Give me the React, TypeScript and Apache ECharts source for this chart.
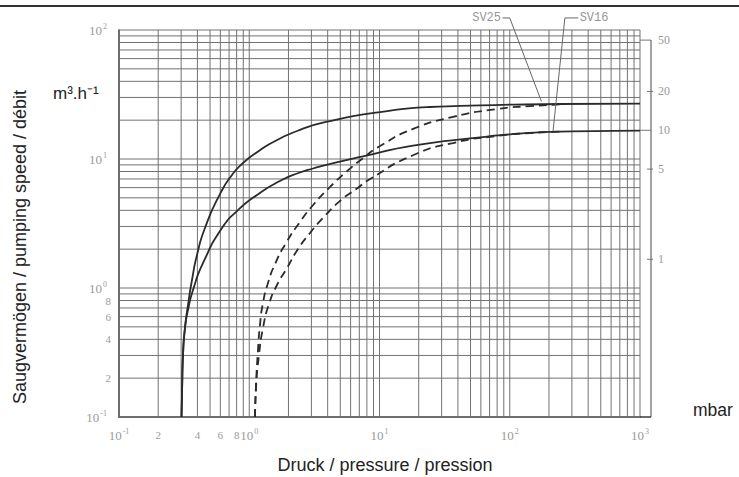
import React, { useEffect, useRef } from 'react';
import * as echarts from 'echarts';

// Axis ranges (log scales)
const X_MIN = 0.1;
const X_MAX = 1000;
const Y_MIN = 0.1;
const Y_MAX = 100;
// right-hand scale: value 10 sits at the SV16 plateau
const RIGHT_FACTOR = 1.67;

// [pressure mbar, pumping speed m3/h]
const sv25Solid: number[][] = [
  [0.302, 0.1], [0.305, 0.162], [0.31, 0.302], [0.321, 0.49], [0.3386, 0.738],
  [0.3634, 1.153], [0.397, 1.803], [0.457, 2.92], [0.596, 5.35], [0.737, 7.52],
  [0.896, 9.31], [1.147, 11.3], [1.52, 13.5], [2.45, 16.8], [4.17, 19.7],
  [10.1, 23.1], [24.4, 25.3], [59.1, 26.0], [243, 26.7], [1000, 26.9],
];
const sv16Solid: number[][] = [
  [0.302, 0.1], [0.305, 0.162], [0.31, 0.302], [0.321, 0.49], [0.3386, 0.675],
  [0.37, 0.965], [0.442, 1.563], [0.618, 2.92], [0.805, 3.95], [1.147, 5.26],
  [1.72, 6.75], [2.45, 7.86], [3.09, 8.44], [4.98, 9.56], [7.47, 10.46],
  [18.1, 12.7], [59.1, 14.7], [100, 15.5], [243, 16.3], [1000, 16.6],
];
const sv25Dashed: number[][] = [
  [1.107, 0.1], [1.127, 0.177], [1.167, 0.33], [1.209, 0.516], [1.275, 0.766],
  [1.393, 1.094], [1.577, 1.535], [1.915, 2.233], [2.45, 3.25], [3.14, 4.48],
  [4.17, 6.07], [5.43, 7.79], [7.34, 10.0], [10.1, 12.6], [18.1, 17.1],
  [36.7, 21.2], [79.8, 24.4], [143, 25.7], [243, 26.5],
];
const sv16Dashed: number[][] = [
  [1.107, 0.1], [1.127, 0.168], [1.188, 0.302], [1.275, 0.49], [1.418, 0.751],
  [1.633, 1.055], [1.95, 1.429], [2.368, 2.005], [2.927, 2.67], [3.684, 3.49],
  [4.98, 4.73], [6.72, 5.91], [8.46, 7.0], [18.1, 10.7], [36.7, 13.3],
  [79.8, 15.1], [143, 15.9], [243, 16.3],
];

// annotation leaders: [label anchor, elbow, curve point]
const sv25Leader: number[][] = [[88, 124], [100, 124], [175, 28]];
const sv16Leader: number[][] = [[335, 124], [265, 124], [215, 16.5]];

// tick labels
const xMinorLabels = [0.2, 0.4, 0.6, 0.8];
const yMinorLabels = [0.2, 0.4, 0.6, 0.8];
const rightTicks = [50, 20, 10, 5, 1];
const rightLongTicks = [50, 10];

// log grid lines (1..9 per decade)
const xGrid: number[] = [];
for (let k = -1; k <= 2; k++) for (let m = 1; m <= 9; m++) xGrid.push(m * Math.pow(10, k));
xGrid.push(X_MAX);
const yGrid: number[] = [];
for (let k = -1; k <= 1; k++) for (let m = 1; m <= 9; m++) yGrid.push(m * Math.pow(10, k));
yGrid.push(Y_MAX);

const pow10Rich = (v: number) => '{b|10}{s|' + String(Math.round(Math.log10(v))) + '}';

const TICK_FONT = '"Liberation Serif", "DejaVu Serif", serif';
const TICK_COLOR = '#9a9a9a';
const MAIN_FONT = '"Liberation Sans", Arial, sans-serif';
const GRID_COLOR = '#727272';
const CURVE_COLOR = '#2b2b2b';
const RIGHT_OFFSET = 11;

const decadeLabel = {
  formatter: (v: number) => pow10Rich(v),
  color: TICK_COLOR,
  fontFamily: TICK_FONT,
  margin: 10,
  rich: {
    b: { fontSize: 13, lineHeight: 16, color: TICK_COLOR, fontFamily: TICK_FONT },
    s: { fontSize: 8, lineHeight: 9, verticalAlign: 'top', color: TICK_COLOR, fontFamily: TICK_FONT, padding: [0, 0, 0, 1] },
  },
};

export default function App() {
  const ref = useRef<HTMLDivElement>(null);

  useEffect(() => {
    if (!ref.current) return;
    const chart = echarts.init(ref.current, undefined, { renderer: 'svg' });

    const curve = (name: string, data: number[][], dashed: boolean) => ({
      type: 'line',
      name,
      data,
      symbol: 'none',
      showSymbol: false,
      smooth: 0.6,
      z: 5,
      lineStyle: {
        color: CURVE_COLOR,
        width: 1.8,
        type: dashed ? [8, 5] : 'solid',
      },
    });

    const leader = (name: string, data: number[][]) => ({
      type: 'line',
      name,
      data,
      symbol: 'none',
      clip: false,
      z: 6,
      lineStyle: { color: '#666', width: 1 },
    });

    const option: any = {
      animation: false,
      backgroundColor: '#fff',
      grid: { left: 119, right: 99, top: 30, bottom: 60, containLabel: false },
      xAxis: {
        type: 'log',
        logBase: 10,
        min: X_MIN,
        max: X_MAX,
        axisLine: { show: true, onZero: false, lineStyle: { color: '#3a3a3a', width: 1.5 } },
        axisTick: { show: false },
        splitLine: { show: false },
        axisLabel: decadeLabel,
      },
      yAxis: [
        {
          type: 'log',
          logBase: 10,
          min: Y_MIN,
          max: Y_MAX,
          axisLine: { show: true, onZero: false, lineStyle: { color: '#3a3a3a', width: 1.5 } },
          axisTick: { show: false },
          splitLine: { show: false },
          axisLabel: { ...decadeLabel, margin: 12 },
        },
        {
          type: 'log',
          logBase: 10,
          min: Y_MIN / RIGHT_FACTOR,
          max: Y_MAX / RIGHT_FACTOR,
          position: 'right',
          axisLine: { show: false },
          axisTick: { show: false },
          axisLabel: { show: false },
          splitLine: { show: false },
        },
      ],
      graphic: [
        {
          type: 'line',
          shape: { x1: 0, y1: 6, x2: 739, y2: 6 },
          style: { stroke: '#333', lineWidth: 2 },
        },
        {
          type: 'text',
          x: 20,
          y: 247,
          rotation: Math.PI / 2,
          style: {
            text: 'Saugvermögen / pumping speed / débit',
            fontSize: 18,
            fontFamily: MAIN_FONT,
            fill: '#222',
            align: 'center',
            verticalAlign: 'middle',
          },
        },
        {
          type: 'text',
          x: 53,
          y: 93,
          style: {
            text: 'm³.h⁻¹',
            fontSize: 17,
            fontFamily: MAIN_FONT,
            fill: '#222',
            align: 'left',
            verticalAlign: 'middle',
          },
        },
        {
          type: 'text',
          x: 385,
          y: 465,
          style: {
            text: 'Druck / pressure / pression',
            fontSize: 18,
            fontFamily: MAIN_FONT,
            fill: '#222',
            align: 'center',
            verticalAlign: 'middle',
          },
        },
        {
          type: 'text',
          x: 693,
          y: 410,
          style: {
            text: 'mbar',
            fontSize: 17.5,
            fontFamily: MAIN_FONT,
            fill: '#222',
            align: 'left',
            verticalAlign: 'middle',
          },
        },
      ],
      series: [
        {
          type: 'custom',
          name: 'vgrid',
          silent: true,
          z: 1,
          clip: false,
          data: xGrid.map((v) => [v, Y_MIN]),
          encode: { x: 0, y: 1 },
          renderItem: (_p: any, api: any) => {
            const v = api.value(0);
            const a = api.coord([v, Y_MIN]);
            const b = api.coord([v, Y_MAX]);
            return {
              type: 'line',
              shape: { x1: a[0], y1: a[1], x2: b[0], y2: b[1] },
              style: { stroke: GRID_COLOR, lineWidth: 1 },
            };
          },
        },
        {
          type: 'custom',
          name: 'hgrid',
          silent: true,
          z: 1,
          clip: false,
          data: yGrid.map((v) => [X_MIN, v]),
          encode: { x: 0, y: 1 },
          renderItem: (_p: any, api: any) => {
            const v = api.value(1);
            const a = api.coord([X_MIN, v]);
            const b = api.coord([X_MAX, v]);
            return {
              type: 'line',
              shape: { x1: a[0], y1: a[1], x2: b[0], y2: b[1] },
              style: { stroke: GRID_COLOR, lineWidth: 1 },
            };
          },
        },
        {
          type: 'custom',
          name: 'xMinorLabels',
          silent: true,
          z: 2,
          clip: false,
          data: xMinorLabels.map((v) => [v, Y_MIN]),
          encode: { x: 0, y: 1 },
          renderItem: (_p: any, api: any) => {
            const v = api.value(0);
            const p = api.coord([v, Y_MIN]);
            return {
              type: 'text',
              x: p[0],
              y: p[1] + 18,
              style: {
                text: String(Math.round(v * 10)),
                fill: TICK_COLOR,
                fontSize: 11,
                fontFamily: TICK_FONT,
                align: 'center',
                verticalAlign: 'middle',
              },
            };
          },
        },
        {
          type: 'custom',
          name: 'yMinorLabels',
          silent: true,
          z: 2,
          clip: false,
          data: yMinorLabels.map((v) => [X_MIN, v]),
          encode: { x: 0, y: 1 },
          renderItem: (_p: any, api: any) => {
            const v = api.value(1);
            const p = api.coord([X_MIN, v]);
            return {
              type: 'text',
              x: p[0] - 8,
              y: p[1],
              style: {
                text: String(Math.round(v * 10)),
                fill: TICK_COLOR,
                fontSize: 11,
                fontFamily: TICK_FONT,
                align: 'right',
                verticalAlign: 'middle',
              },
            };
          },
        },
        {
          type: 'custom',
          name: 'rightAxis',
          silent: true,
          z: 2,
          clip: false,
          yAxisIndex: 1,
          data: rightTicks.map((v) => [X_MAX, v]),
          encode: { x: 0, y: 1 },
          renderItem: (_p: any, api: any) => {
            const v = api.value(1);
            const p = api.coord([X_MAX, v]);
            const ax = p[0] + RIGHT_OFFSET;
            const long = rightLongTicks.indexOf(v) >= 0;
            return {
              type: 'group',
              children: [
                {
                  type: 'line',
                  shape: { x1: long ? p[0] : ax - 4, y1: p[1], x2: long ? ax : ax + 2, y2: p[1] },
                  style: { stroke: '#777', lineWidth: 1 },
                },
                {
                  type: 'text',
                  x: ax + 7,
                  y: p[1],
                  style: {
                    text: String(v),
                    fill: TICK_COLOR,
                    fontSize: 12,
                    fontFamily: TICK_FONT,
                    align: 'left',
                    verticalAlign: 'middle',
                  },
                },
              ],
            };
          },
        },
        {
          type: 'custom',
          name: 'rightSpine',
          silent: true,
          z: 2,
          clip: false,
          yAxisIndex: 1,
          data: [[X_MAX, rightTicks[0]]],
          encode: { x: 0, y: 1 },
          renderItem: (_p: any, api: any) => {
            const top = api.coord([X_MAX, rightTicks[0]]);
            const bottom = api.coord([X_MAX, Y_MIN / RIGHT_FACTOR]);
            const ax = top[0] + RIGHT_OFFSET;
            return {
              type: 'group',
              children: [
                {
                  type: 'line',
                  shape: { x1: ax, y1: top[1], x2: ax, y2: bottom[1] },
                  style: { stroke: '#666', lineWidth: 1.2 },
                },
                {
                  type: 'line',
                  shape: { x1: top[0], y1: bottom[1], x2: ax, y2: bottom[1] },
                  style: { stroke: '#3a3a3a', lineWidth: 1.5 },
                },
              ],
            };
          },
        },
        curve('SV25', sv25Solid, false),
        curve('SV16', sv16Solid, false),
        curve('SV25 gas ballast', sv25Dashed, true),
        curve('SV16 gas ballast', sv16Dashed, true),
        leader('SV25 leader', sv25Leader),
        leader('SV16 leader', sv16Leader),
        {
          type: 'scatter',
          name: 'labels',
          clip: false,
          symbolSize: 1,
          z: 7,
          itemStyle: { color: 'transparent' },
          label: {
            show: true,
            formatter: '{b}',
            color: '#777',
            fontSize: 12,
            fontFamily: '"Liberation Mono", "DejaVu Sans Mono", monospace',
            distance: 1,
          },
          data: [
            { name: 'SV25', value: sv25Leader[0], label: { position: 'left' } },
            { name: 'SV16', value: sv16Leader[0], label: { position: 'right' } },
          ],
        },
      ],
    };

    chart.setOption(option);
    return () => chart.dispose();
  }, []);

  return (
    <div
      ref={ref}
      style={{ position: 'fixed', left: 0, top: 0, width: 739, height: 477, background: '#fff' }}
    />
  );
}
